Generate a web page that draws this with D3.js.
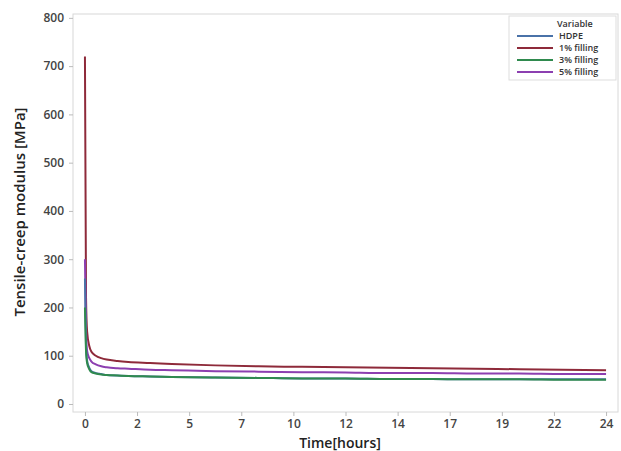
<!DOCTYPE html>
<html>
<head>
<meta charset="utf-8">
<script src="https://cdn.jsdelivr.net/npm/d3@7"></script>
<style>
  body { margin: 0; background: #fff; }
  text { font-family: "Open Sans", "DejaVu Sans", sans-serif; }
</style>
</head>
<body>
<script>
const hours = [0, 0.05, 0.1, 0.2, 0.3, 0.5, 0.75, 1, 1.5, 2, 3, 4, 6, 8, 10, 12, 14, 16, 18, 20, 22, 24];
const hdpe = [260, 120, 90, 75, 68, 64, 62, 60, 59, 58, 57, 56, 55, 54, 53, 53, 52, 52, 51, 51, 51, 51];
const fill1 = [720, 220, 150, 120, 108, 100, 95, 92, 89, 87, 85, 83, 80, 78, 77, 76, 75, 74, 73, 72, 71, 70];
const fill3 = [200, 110, 85, 72, 66, 63, 61, 60, 59, 58, 57, 56, 55, 54, 53, 53, 52, 52, 51, 51, 50, 50];
const fill5 = [300, 150, 110, 95, 88, 82, 78, 76, 74, 73, 71, 70, 68, 67, 66, 65, 64, 64, 63, 63, 62, 62];
const seriesNames = ["HDPE", "1% filling", "3% filling", "5% filling"];
const seriesColors = ["#4a72a8", "#8e2a3a", "#2f8a4e", "#8c3fb0"];
const xTicks = [0, 2.4, 4.8, 7.2, 9.6, 12, 14.4, 16.8, 19.2, 21.6, 24];
const yTicks = [0, 100, 200, 300, 400, 500, 600, 700, 800];

const w = 621, h = 451;
const mLeft = 73, mRight = 618, mTop = 14, mBottom = 412;

const svg = d3.select("body").append("svg")
  .attr("width", w)
  .attr("height", h);

const x = d3.scaleLinear().domain([-0.55, 24.55]).range([mLeft, mRight]);
const y = d3.scaleLinear().domain([-16.6, 808]).range([mBottom, mTop]);

// frame
svg.append("rect")
  .attr("x", mLeft).attr("y", mTop)
  .attr("width", mRight - mLeft).attr("height", mBottom - mTop)
  .attr("fill", "none").attr("stroke", "#d8d8d8");

const xAxis = svg.append("g")
  .attr("transform", `translate(0,${mBottom})`)
  .call(d3.axisBottom(x).tickValues(xTicks).tickFormat(d3.format(".0f")).tickSize(4).tickPadding(3));
const yAxis = svg.append("g")
  .attr("transform", `translate(${mLeft},0)`)
  .call(d3.axisLeft(y).tickValues(yTicks).tickSize(4).tickPadding(5));

[xAxis, yAxis].forEach(g => {
  g.select(".domain").remove();
  g.selectAll(".tick line").attr("stroke", "#bbb");
  g.selectAll(".tick text")
    .attr("fill", "#444")
    .style("font-size", "12px")
    .style("font-weight", "600");
});

const line = d3.line()
  .x(d => x(d[0]))
  .y(d => y(d[1]))
  .curve(d3.curveMonotoneX);

const allSeries = [hdpe, fill1, fill3, fill5];
const drawOrder = [1, 3, 0, 2];
drawOrder.forEach(i => {
  svg.append("path")
    .datum(hours.map((t, j) => [t, allSeries[i][j]]))
    .attr("d", line)
    .attr("fill", "none")
    .attr("stroke", seriesColors[i])
    .attr("stroke-width", 2);
});

// axis titles
svg.append("text")
  .attr("x", 340).attr("y", 448)
  .attr("text-anchor", "middle")
  .style("font-size", "14px").style("font-weight", "600")
  .attr("fill", "#222")
  .text("Time[hours]");

svg.append("text")
  .attr("transform", "translate(25,212) rotate(-90)")
  .attr("text-anchor", "middle")
  .style("font-size", "15px").style("font-weight", "600")
  .attr("fill", "#222")
  .text("Tensile-creep modulus [MPa]");

// legend
const lg = svg.append("g").attr("transform", "translate(509,16)");
lg.append("rect")
  .attr("width", 107).attr("height", 64)
  .attr("fill", "#fff").attr("stroke", "#ddd");
lg.append("text")
  .attr("x", 48).attr("y", 11)
  .style("font-size", "9px").style("font-weight", "600")
  .attr("fill", "#333")
  .text("Variable");
seriesNames.forEach((name, i) => {
  const yy = 23 + i * 12;
  lg.append("line")
    .attr("x1", 8).attr("x2", 44)
    .attr("y1", yy - 3).attr("y2", yy - 3)
    .attr("stroke", seriesColors[i]).attr("stroke-width", 2);
  lg.append("text")
    .attr("x", 50).attr("y", yy)
    .style("font-size", "9px").style("font-weight", "600")
    .attr("fill", "#333")
    .text(name);
});
</script>
</body>
</html>
